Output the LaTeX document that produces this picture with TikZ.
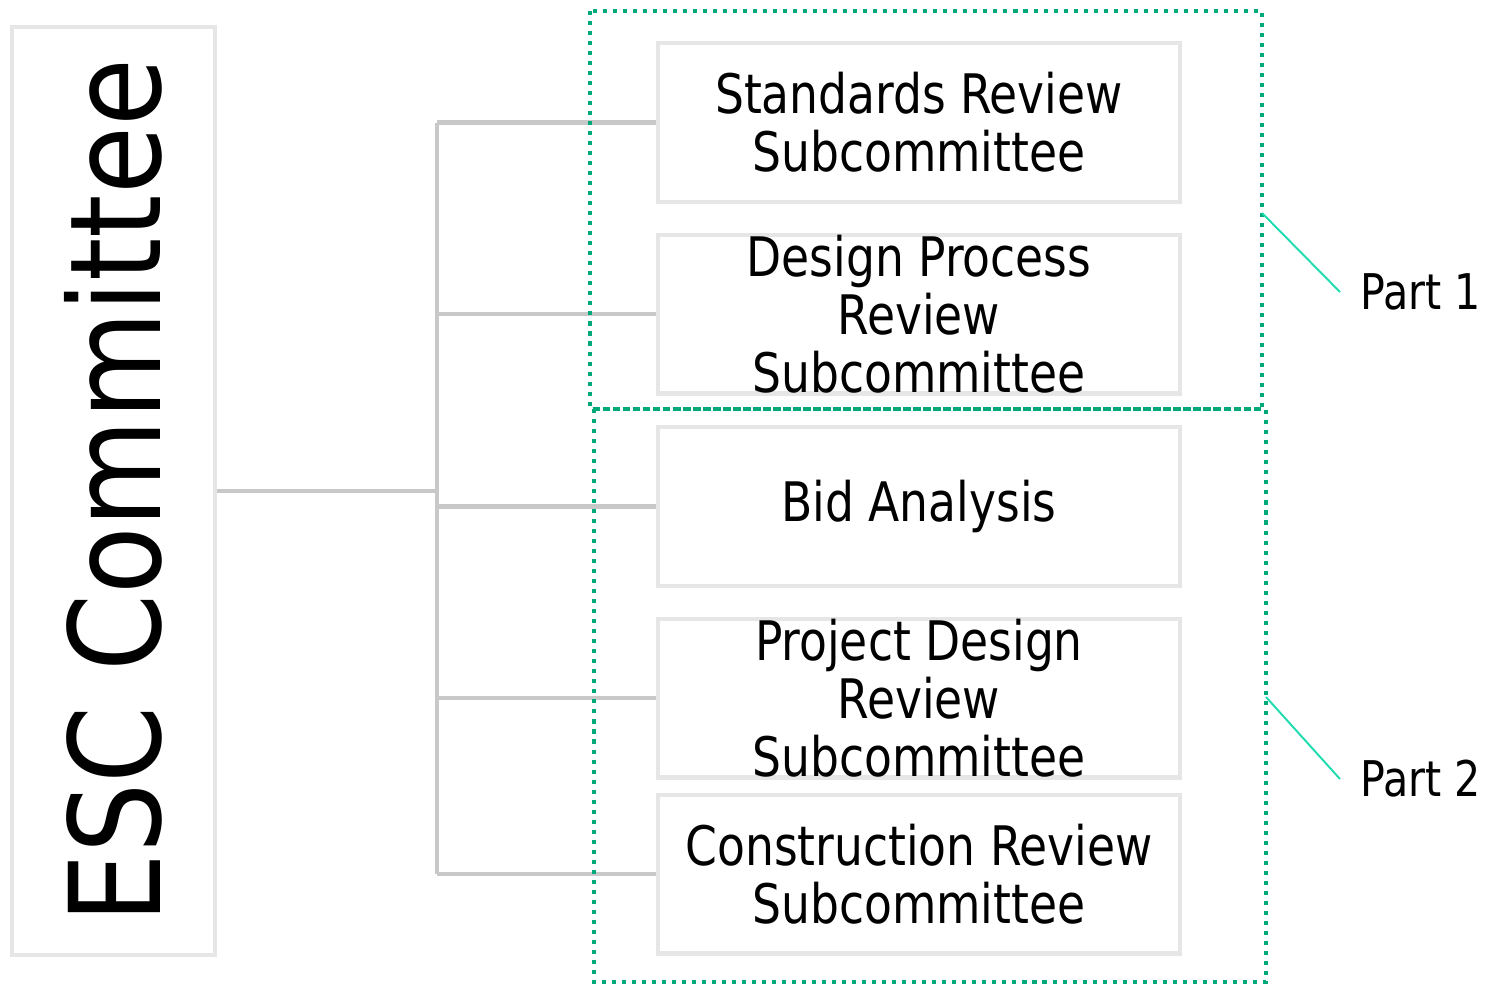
\documentclass[tikz,border=0pt]{standalone}
\usepackage{fontspec}
\setmainfont[FakeStretch=0.93]{DejaVu Sans Condensed}
\newfontfamily\escfont[FakeStretch=0.97]{DejaVu Sans Condensed}
\definecolor{boxgray}{HTML}{E6E6E6}
\definecolor{linkgray}{HTML}{C8C8C8}
\definecolor{partgreen}{HTML}{00A87A}
\definecolor{calloutgreen}{HTML}{1EDCB0}
\tikzset{
  subbox/.style={draw=boxgray, line width=2.3pt, fill=white, minimum width=10.44cm,
    minimum height=3.18cm},
  subtext/.style={align=center, inner sep=0pt, font=\fontsize{31}{33}\selectfont},
  link/.style={linkgray, line width=2.3pt},
  partline/.style={partgreen, line width=2.4pt, dash pattern=on 2.3pt off 3.4pt},
}
\begin{document}
\begin{tikzpicture}[x=0.02cm,y=-0.02cm]
  \useasboundingbox (0,0) rectangle (1489,985);

  \node[draw=boxgray, line width=2.3pt, rotate=90, minimum width=18.56cm, minimum height=4.06cm,
    inner sep=0pt, font=\escfont\fontsize{72}{74}\selectfont] (esc) at (113.5,491) {ESC Committee};

  \node[subbox, label={[subtext]center:Standards Review\\Subcommittee}] (std) at (919,122.5) {};
  \node[subbox, label={[subtext]center:Design Process\\Review\\Subcommittee}] (dpr) at (919,314) {};
  \node[subbox, label={[subtext]center:Bid Analysis}] (bid) at (919,506.5) {};
  \node[subbox, label={[subtext]center:Project Design\\Review\\Subcommittee}] (pdr) at (919,698) {};
  \node[subbox, label={[subtext]center:Construction Review\\Subcommittee}] (con) at (919,874) {};

  % tree lines
  \coordinate (bus) at (437,491);
  \draw[link] (esc.south) -- (bus);
  \draw[link] (bus |- std.west) -- (bus |- con.west);
  \foreach \b in {std,dpr,bid,pdr,con}
    \draw[link] (bus |- \b.west) -- (\b.west);

  % parts
  \draw[partline] (590,11) rectangle (1262,409);
  \draw[partline] (594,409) rectangle (1266,982);

  \coordinate (c1) at (1262,213);
  \coordinate (c2) at (1266,697);
  \node[anchor=west, inner xsep=0.4cm, font=\fontsize{28}{30}\selectfont] (partone) at (1340,292) {Part 1};
  \node[anchor=west, inner xsep=0.4cm, font=\fontsize{28}{30}\selectfont] (parttwo) at (1340,779) {Part 2};
  \draw[calloutgreen, line width=1.1pt] (c1) -- (partone.west);
  \draw[calloutgreen, line width=1.1pt] (c2) -- (parttwo.west);
\end{tikzpicture}
\end{document}
